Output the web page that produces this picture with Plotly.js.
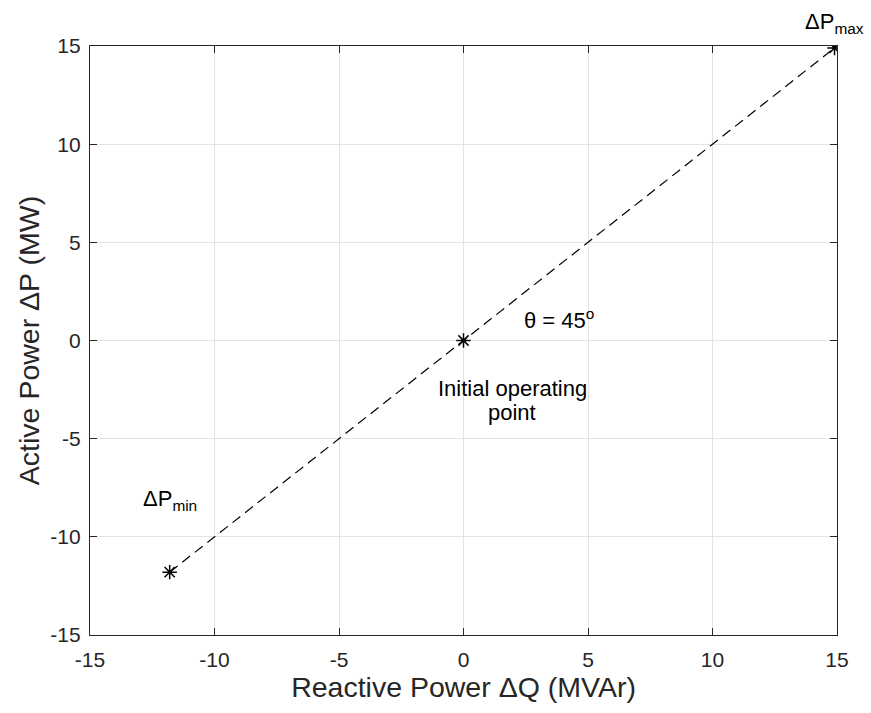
<!DOCTYPE html>
<html>
<head>
<meta charset="utf-8">
<script src="https://cdn.plot.ly/plotly-3.0.1.min.js"></script>
<style>html,body{margin:0;padding:0;background:#fff;}#plot{width:871px;height:713px;}</style>
</head>
<body>
<div id="plot"></div>
<script>
const deltaQ = [-11.8, 0, 14.9];
const deltaP = [-11.8, 0, 14.9];
const tickVals = [-15, -10, -5, 0, 5, 10, 15];

const font = "Liberation Sans, Arial, Helvetica, sans-serif";

const traces = [
  {
    x: deltaQ, y: deltaP, type: 'scatter', mode: 'lines',
    line: {color: '#000', width: 1.2, dash: '10px,6px'},
    hoverinfo: 'skip', showlegend: false
  },
  {
    x: deltaQ, y: deltaP, type: 'scatter', mode: 'markers',
    marker: {symbol: 'asterisk-open', size: 12, color: '#000', line: {color: '#000', width: 1.5}},
    showlegend: false
  }
];

const axisCommon = {
  range: [-15, 15], tickvals: tickVals, ticktext: tickVals.map(String),
  showgrid: true, gridcolor: '#e3e3e3', gridwidth: 1,
  zeroline: false, showline: true, linecolor: '#262626', linewidth: 1.2,
  mirror: 'ticks', ticks: 'inside', ticklen: 7, tickcolor: '#262626', tickwidth: 1,
  tickfont: {family: font, size: 21, color: '#262626'}
};

const layout = {
  width: 871, height: 713,
  margin: {l: 90, r: 34, t: 46, b: 78},
  paper_bgcolor: '#fff', plot_bgcolor: '#fff',
  xaxis: Object.assign({}, axisCommon, {
    ticklabelstandoff: 6,
    title: {text: 'Reactive Power ΔQ (MVAr)', font: {family: font, size: 28.5, color: '#262626'}, standoff: 4}
  }),
  yaxis: Object.assign({}, axisCommon, {
    ticklabelstandoff: 4,
    title: {text: 'Active Power ΔP (MW)', font: {family: font, size: 28.5, color: '#262626'}, standoff: 2}
  }),
  annotations: [
    {x: 14.9, y: 14.9, xref: 'x', yref: 'y', text: 'ΔP<sub>max</sub>', showarrow: false,
     xanchor: 'center', yanchor: 'bottom', yshift: 9, font: {family: font, size: 22, color: '#000'}},
    {x: -11.8, y: -11.8, xref: 'x', yref: 'y', text: 'ΔP<sub>min</sub>', showarrow: false,
     xanchor: 'center', yanchor: 'bottom', yshift: 56, font: {family: font, size: 22, color: '#000'}},
    {x: 2.35, y: 1.1, xref: 'x', yref: 'y', text: 'θ = 45<sup>o</sup>', showarrow: false,
     xanchor: 'left', yanchor: 'middle', font: {family: font, size: 22, color: '#000'}},
    {x: 1.95, y: -2.42, xref: 'x', yref: 'y', text: 'Initial operating', showarrow: false,
     xanchor: 'center', yanchor: 'middle', font: {family: font, size: 22, color: '#000'}},
    {x: 1.95, y: -3.69, xref: 'x', yref: 'y', text: 'point', showarrow: false,
     xanchor: 'center', yanchor: 'middle', font: {family: font, size: 22, color: '#000'}}
  ]
};

Plotly.newPlot('plot', traces, layout, {displayModeBar: false, staticPlot: true});
</script>
</body>
</html>
